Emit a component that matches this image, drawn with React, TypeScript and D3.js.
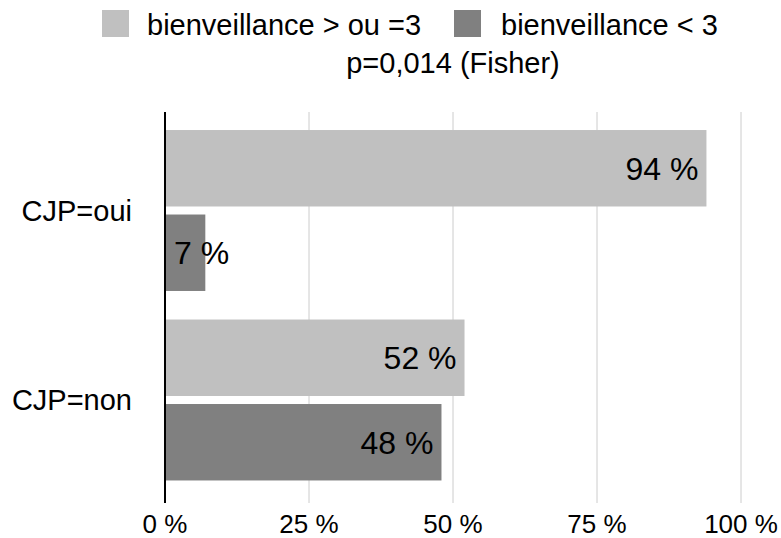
import React from "react";
import * as d3 from "d3";

const categories = ["CJP=oui", "CJP=non"];
const seriesNames = ["bienveillance > ou =3", "bienveillance < 3"];
const seriesHigh = [0.94, 0.52];
const seriesLow = [0.07, 0.48];
const valueLabels = [["94 %", "7 %"], ["52 %", "48 %"]];
const ticks = [0, 0.25, 0.5, 0.75, 1];
const tickLabels = ["0 %", "25 %", "50 %", "75 %", "100 %"];
const subtitle = "p=0,014 (Fisher)";
const colors = ["#c0c0c0", "#808080"];

const W = 781;
const H = 538;
const FONT = "'Liberation Sans', Arial, Helvetica, sans-serif";

export default function App() {
  const x = d3.scaleLinear().domain([0, 1]).range([165, 741]);
  const y0 = d3.scaleBand<string>().domain(categories).range([115.75, 494.75]).padding(0);
  const y1 = d3
    .scaleBand<string>()
    .domain(seriesNames)
    .range([0, y0.bandwidth()])
    .paddingInner(0.095)
    .paddingOuter(0.169);

  const series = [seriesHigh, seriesLow];

  return (
    <svg width={W} height={H} style={{ position: "absolute", left: 0, top: 0, background: "#fff" }} fontFamily={FONT}>
      {/* legend */}
      <rect x={102} y={10} width={27} height={27} fill={colors[0]} />
      <text x={147} y={35} fontSize={29} fill="#000">{seriesNames[0]}</text>
      <rect x={454} y={10} width={27} height={27} fill={colors[1]} />
      <text x={501} y={35} fontSize={29} fill="#000">{seriesNames[1]}</text>
      <text x={453} y={73} fontSize={29} textAnchor="middle" fill="#000">{subtitle}</text>

      {/* gridlines */}
      {ticks.slice(1).map((t) => (
        <line key={t} x1={x(t)} x2={x(t)} y1={112} y2={503} stroke="#cccccc" strokeWidth={1} />
      ))}

      {/* bars */}
      {categories.map((c, ci) => (
        <g key={c}>
          {seriesNames.map((s, si) => {
            const v = series[si][ci];
            const by = (y0(c) ?? 0) + (y1(s) ?? 0);
            const bh = y1.bandwidth();
            const bw = x(v) - x(0);
            const narrow = bw < 90;
            return (
              <g key={s}>
                <rect x={x(0)} y={by} width={bw} height={bh} fill={colors[si]} />
                <text
                  x={narrow ? x(0) + 9 : x(v) - 8}
                  y={by + bh / 2}
                  dy="0.36em"
                  fontSize={32}
                  textAnchor={narrow ? "start" : "end"}
                  fill="#000"
                >
                  {valueLabels[ci][si]}
                </text>
              </g>
            );
          })}
          <text
            x={132}
            y={(y0(c) ?? 0) + y0.bandwidth() / 2}
            dy="0.36em"
            fontSize={29}
            textAnchor="end"
            fill="#000"
          >
            {c}
          </text>
        </g>
      ))}

      {/* axis line */}
      <line x1={x(0)} x2={x(0)} y1={112} y2={503} stroke="#000" strokeWidth={2} />

      {/* tick labels */}
      {ticks.map((t, i) => (
        <text key={t} x={x(t)} y={533} fontSize={26} textAnchor="middle" fill="#000">
          {tickLabels[i]}
        </text>
      ))}
    </svg>
  );
}
